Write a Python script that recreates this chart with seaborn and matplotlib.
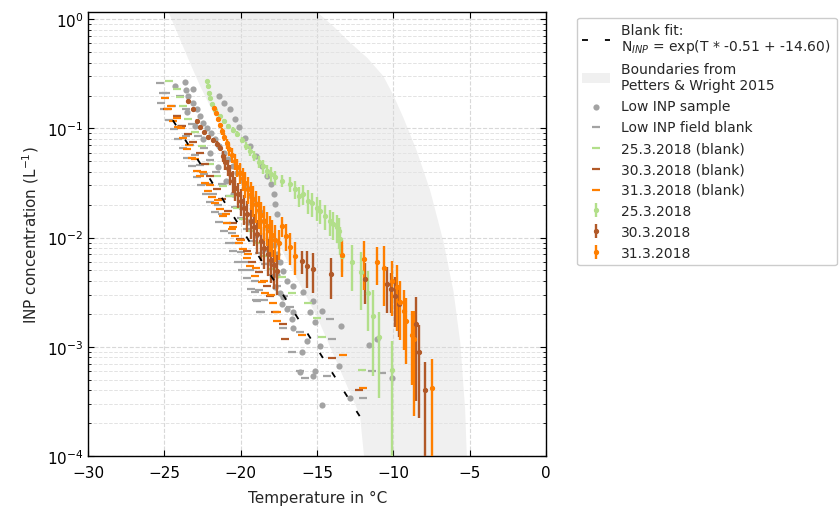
import numpy as np
import matplotlib
matplotlib.use("Agg")
import matplotlib.pyplot as plt
import seaborn as sns

# -----------------------------
# Colours
# -----------------------------
c_gray = "#a3a3a3"
c_green = "#b2df8a"
c_brown = "#b15928"
c_orange = "#ff7f00"
c_shade = "#f0f0f0"

# -----------------------------
# Blank fit: N = exp(T * slope + intercept)
# -----------------------------
fit_slope = -0.51
fit_intercept = -14.60
fit_T = [-24.45, -12.0]

# -----------------------------
# Petters & Wright 2015 boundaries
# -----------------------------
pw_lower_T = [-25.2, -24.74, -23.43, -22.67, -21.0, -19.0, -17.0, -15.02, -13.71, -12.19, -11.93, -11.85]
pw_lower_c = [1.6, 1.17, 0.43, 0.245, 0.083, 0.023, 0.0063, 0.0019, 7.2e-4, 2.33e-4, 1e-4, 5e-5]
pw_upper_T = [-15.6, -15.02, -13.9, -12.84, -11.7, -10.66, -10.0, -9.35, -8.47, -7.6, -6.73, -6.07, -5.63, -5.31, -5.2, -5.15]
pw_upper_c = [1.6, 1.17, 0.85, 0.61, 0.44, 0.30, 0.20, 0.125, 0.062, 0.027, 0.0092, 0.0032, 0.0011, 2.7e-4, 1e-4, 5e-5]

# -----------------------------
# Low INP sample (gray dots)
# -----------------------------
sample_T = [-24.30, -23.65, -23.58, -23.10,
            -21.40, -21.09, -20.70, -20.37, -20.09, -19.72, -19.39, -19.00, -18.63, -18.30, -18.04, -17.82, -17.73, -17.64,
            -23.43, -23.15, -22.88, -22.65, -22.45, -22.2, -21.97, -21.7, -21.40, -21.1, -20.81, -20.5, -20.22, -19.9,
            -19.61, -19.3, -19.00, -18.75, -18.47, -18.25, -18.04, -17.85, -17.64, -17.45, -17.25, -16.99,
            -23.5, -23.0, -22.5, -22.0, -21.5, -21.0, -20.5, -20.0, -19.5, -19.0, -18.5, -18.0, -17.6,
            -17.75, -17.42, -17.21, -17.32, -16.99, -16.55, -16.55, -15.90, -15.24, -15.50, -14.70, -15.13, -16.66,
            -16.55, -15.68, -14.81, -16.01, -13.45, -11.09, -11.59, -13.60, -15.13, -16.11, -15.29, -12.84, -14.70, -10.11]
sample_c = [0.242, 0.267, 0.225, 0.229,
            0.196, 0.172, 0.152, 0.121, 0.102, 0.0824, 0.0692, 0.056, 0.0454, 0.0367, 0.0308, 0.025, 0.0202, 0.0164,
            0.196, 0.170, 0.150, 0.130, 0.113, 0.100, 0.0904, 0.080, 0.0692, 0.060, 0.0522, 0.045, 0.0394, 0.034,
            0.0287, 0.024, 0.0202, 0.017, 0.0142, 0.012, 0.0100, 0.0085, 0.00705, 0.006, 0.00496, 0.00402,
            0.14, 0.105, 0.08, 0.06, 0.044, 0.033, 0.025, 0.019, 0.014, 0.0105, 0.0078, 0.0058, 0.0045,
            3.49e-3, 3.14e-3, 2.83e-3, 2.46e-3, 2.21e-3, 2.06e-3, 3.61e-3, 3.19e-3, 2.63e-3, 2.06e-3, 2.13e-3, 1.67e-3, 1.79e-3,
            1.50e-3, 1.13e-3, 1.02e-3, 8.87e-4, 1.55e-3, 1.17e-3, 1.04e-3, 6.68e-4, 6.02e-4, 5.93e-4, 5.42e-4, 3.36e-4, 2.92e-4, 5.23e-4]

# -----------------------------
# Low INP field blank (gray dashes)
# -----------------------------
field_blank_T = [-25.3, -25.1, -25.2, -25.0, -24.7, -24.4, -24.1, -23.8, -23.5, -23.2, -22.9, -22.6, -22.3, -22.0,
                 -21.7, -21.4, -21.1, -20.8, -20.5, -20.2, -19.9, -19.6, -19.3, -19.0, -18.7,
                 -24.9, -24.5, -24.2, -23.9, -23.6, -23.3, -23.0, -22.7, -22.4, -22.1, -21.8, -21.5, -21.2, -20.9,
                 -20.6, -20.3, -20.0, -19.7, -19.4, -19.1, -18.8, -18.5,
                 -24.0, -23.6, -23.2, -22.8, -22.4, -22.0, -21.6, -21.2, -20.8, -20.4, -20.0, -19.6, -19.2, -18.8,
                 -18.4, -18.0, -17.6, -17.2, -16.8,
                 -19.06, -18.95, -18.73, -17.21, -16.66, -16.11, -16.11, -15.79, -14.15, -14.04, -14.37, -11.97, -11.42, -10.72]
field_blank_c = [0.26, 0.21, 0.17, 0.15, 0.12, 0.098, 0.08, 0.066, 0.053, 0.045, 0.036, 0.030, 0.025, 0.021,
                 0.017, 0.014, 0.0115, 0.009, 0.0075, 0.006, 0.005, 0.0043, 0.0034, 0.0027, 0.0021,
                 0.21, 0.16, 0.13, 0.105, 0.085, 0.07, 0.057, 0.046, 0.038, 0.031, 0.025, 0.020, 0.0165, 0.0135,
                 0.011, 0.009, 0.0074, 0.006, 0.005, 0.004, 0.0033, 0.0027,
                 0.2, 0.15, 0.11, 0.085, 0.066, 0.051, 0.04, 0.031, 0.024, 0.019, 0.015, 0.012, 0.0093, 0.0073,
                 0.0057, 0.0045, 0.0036, 0.0029, 0.0023,
                 3.19e-3, 2.63e-3, 2.09e-3, 1.50e-3, 8.99e-4, 1.37e-3, 6.02e-4, 5.15e-4, 1.79e-3, 1.19e-3, 5.42e-4, 3.36e-4, 6.02e-4, 5.73e-4]

# -----------------------------
# Field blanks of the three days (dashes)
# -----------------------------
blank_25_T = [-24.70, -24.19, -23.97, -23.76, -23.43, -22.99, -22.56, -22.01, -21.57, -21.14, -20.70, -20.26,
              -19.83, -19.39, -18.95, -18.41, -17.86, -17.32, -16.66, -15.63, -15.02, -14.70, -12.03]
blank_25_c = [0.272, 0.229, 0.192, 0.161, 0.121, 0.0917, 0.0692, 0.0470, 0.0367, 0.0298, 0.0241, 0.0188,
              0.0147, 0.0115, 0.00901, 0.00681, 0.00514, 0.00431, 0.00314, 0.00251, 0.00185, 0.00122, 6.15e-4]

blank_30_T = [-24.85, -24.19, -23.87, -23.43, -23.10, -22.66, -22.34, -22.01, -21.57, -21.25, -20.81, -20.48,
              -20.05, -19.61, -19.28, -18.84, -18.30, -18.08, -17.75, -17.21, -17.10, -14.04, -12.23]
blank_30_c = [0.152, 0.130, 0.105, 0.0885, 0.0743, 0.0601, 0.0470, 0.0367, 0.0277, 0.0225, 0.0176, 0.0137,
              0.00967, 0.00756, 0.00592, 0.00479, 0.00361, 0.00293, 0.00206, 0.00163, 0.00119, 7.97e-4, 4.01e-4]

blank_31_T = [-24.96, -24.74, -24.41, -24.08, -23.76, -23.54, -23.21, -22.88, -22.66, -22.34, -22.12, -21.90,
              -21.68, -21.36, -21.14, -20.92, -20.59, -20.37, -20.15, -19.83, -19.61, -19.39, -19.06, -18.63,
              -18.41, -17.86, -17.64, -17.64, -16.01, -13.32, -12.01,
              -24.6, -24.2, -23.9, -23.4, -23.0, -22.5, -22.0, -21.5, -21.0, -20.5, -20.0, -19.5, -19.0, -18.5, -18.0]
blank_31_c = [0.188, 0.152, 0.117, 0.102, 0.0824, 0.0645, 0.0541, 0.0408, 0.0367, 0.0319, 0.0268, 0.0233,
              0.0209, 0.0182, 0.0158, 0.0137, 0.0119, 0.0104, 0.00901, 0.00783, 0.00656, 0.00551, 0.00446, 0.00388,
              0.00314, 0.00254, 0.00206, 0.00173, 0.00128, 8.4e-4, 4.18e-4,
              0.16, 0.125, 0.1, 0.07, 0.052, 0.04, 0.03, 0.022, 0.0165, 0.0125, 0.0095, 0.007, 0.0053, 0.0040, 0.003]

# -----------------------------
# Samples with relative uncertainty (error bars)
# -----------------------------
s25_T = [-22.23, -22.16, -22.10, -22.01, -21.88, -21.68, -21.36, -21.09, -20.81, -20.53, -20.22, -19.94,
         -19.65, -19.39, -19.13, -18.84, -18.56, -18.30, -18.04, -17.75, -17.32, -16.77, -16.44, -16.22,
         -15.90, -15.57, -15.35, -15.02, -14.81, -14.48, -14.15, -13.93, -13.71, -13.60, -13.50, -13.36,
         -12.73, -12.14, -11.64, -11.31, -10.94, -10.11]
s25_c = [0.272, 0.242, 0.213, 0.188, 0.166, 0.148, 0.130, 0.117, 0.105, 0.0970, 0.0885, 0.0785,
         0.0692, 0.0622, 0.0560, 0.0494, 0.0448, 0.0408, 0.0381, 0.0355, 0.0331, 0.0308, 0.0277, 0.0241,
         0.0250, 0.0217, 0.0206, 0.0188, 0.0176, 0.0158, 0.0142, 0.0133, 0.0126, 0.0115, 0.00967, 0.00671,
         0.00592, 0.00479, 0.00314, 0.00192, 0.00122, 6.15e-4]
s25_rel = [0.03, 0.03, 0.03, 0.035, 0.035, 0.035, 0.04, 0.04, 0.05, 0.055, 0.06, 0.07,
           0.085, 0.1, 0.11, 0.125, 0.14, 0.14, 0.155, 0.155, 0.13, 0.155, 0.19, 0.21,
           0.2, 0.245, 0.245, 0.245, 0.245, 0.265, 0.265, 0.29, 0.29, 0.31, 0.28, 0.28,
           0.45, 0.55, 0.56, 0.72, 0.72, 0.84]

s30_T = [-23.43, -23.15, -22.88, -22.66, -22.40, -22.12, -21.84, -21.57, -21.36, -21.18, -21.03, -20.87,
         -20.70, -20.53, -20.35, -20.18, -20.00, -19.78, -19.57, -19.35, -19.13, -18.91, -18.69, -18.47,
         -18.25, -18.04, -17.82, -17.60, -16.01, -15.68, -15.29, -14.11, -11.86, -10.44, -10.18, -9.89,
         -9.61, -8.55, -8.35, -7.93]
s30_c = [0.179, 0.150, 0.117, 0.102, 0.0917, 0.0836, 0.078, 0.0727, 0.0668, 0.056, 0.0494, 0.0438,
         0.0381, 0.0331, 0.0287, 0.0250, 0.0217, 0.0188, 0.0164, 0.0142, 0.0124, 0.0107, 0.00933, 0.00811,
         0.00705, 0.00625, 0.00558, 0.00496, 0.00612, 0.00551, 0.00514, 0.00462, 0.00416, 0.00374, 0.00337, 0.00293,
         0.00245, 1.6e-3, 9e-4, 4.01e-4]
s30_rel = [0.03, 0.03, 0.035, 0.035, 0.04, 0.04, 0.045, 0.05, 0.06, 0.12, 0.15, 0.17,
           0.2, 0.22, 0.24, 0.26, 0.28, 0.3, 0.31, 0.32, 0.33, 0.34, 0.35, 0.36,
           0.37, 0.38, 0.39, 0.4, 0.24, 0.37, 0.4, 0.41, 0.41, 0.45, 0.4, 0.48,
           0.5, 0.8, 0.75, 0.79]

s31_T = [-21.75, -21.62, -21.49, -21.36, -21.22, -21.09, -20.92, -20.74, -20.57, -20.40, -20.22, -20.05,
         -19.87, -19.70, -19.52, -19.35, -19.17, -19.00, -18.82, -18.65, -18.47, -18.30, -18.12, -17.95,
         -17.73, -17.47, -17.32, -17.03, -16.77, -16.44,
         -13.39, -11.92, -11.09, -10.59, -10.11, -9.78, -9.56, -9.28, -9.19, -8.80, -8.65, -7.49]
s31_c = [0.155, 0.138, 0.121, 0.107, 0.0942, 0.0830, 0.0731, 0.0645, 0.0569, 0.0501, 0.0441, 0.0394,
         0.0352, 0.0315, 0.0281, 0.0251, 0.0225, 0.0201, 0.0179, 0.0160, 0.0143, 0.0128, 0.0116, 0.0105,
         0.00953, 0.00901, 0.0128, 0.0104, 0.00828, 0.00681,
         0.00690, 0.00634, 0.00592, 0.00532, 0.00402, 0.00349, 0.00258, 0.00213, 0.00173, 0.00128, 0.00117, 4.2e-4]
s31_rel = [0.035, 0.042, 0.042, 0.056, 0.07, 0.084, 0.105, 0.126, 0.154, 0.175, 0.195, 0.22,
           0.245, 0.265, 0.275, 0.29, 0.31, 0.325, 0.337, 0.337, 0.35, 0.35, 0.37, 0.37,
           0.37, 0.31, 0.21, 0.275, 0.325, 0.337,
           0.37, 0.48, 0.385, 0.56, 0.52, 0.6, 0.55, 0.56, 0.6, 0.65, 0.8, 0.83]

# -----------------------------
# Figure
# -----------------------------
sns.set_style("ticks")
plt.rcParams['font.family'] = ['DejaVu Sans']

fig, ax = plt.subplots(figsize=(8.39, 5.10), dpi=100)
fig.subplots_adjust(left=0.105, right=0.651, bottom=0.104, top=0.975)
ax.set_yscale('log')

# shaded band
ax.fill(np.concatenate([pw_lower_T, pw_upper_T[::-1]]),
        np.concatenate([pw_lower_c, pw_upper_c[::-1]]),
        color=c_shade, lw=0, zorder=0.5, label='Boundaries from\nPetters & Wright 2015')

# dots and dashes
sns.scatterplot(x=sample_T, y=sample_c, color=c_gray, s=20, linewidth=0, ax=ax,
                zorder=2, label='Low INP sample', legend=False)
dash_kw = dict(marker='_', s=36, linewidth=1.6, ax=ax, zorder=2.2, legend=False)
sns.scatterplot(x=field_blank_T, y=field_blank_c, color=c_gray, label='Low INP field blank', **dash_kw)
sns.scatterplot(x=blank_25_T, y=blank_25_c, color=c_green, label='25.3.2018 (blank)', **dash_kw)
sns.scatterplot(x=blank_30_T, y=blank_30_c, color=c_brown, label='30.3.2018 (blank)', **dash_kw)
sns.scatterplot(x=blank_31_T, y=blank_31_c, color=c_orange, label='31.3.2018 (blank)', **dash_kw)

# samples with error bars
for T, c, rel, col, lab in [(s25_T, s25_c, s25_rel, c_green, '25.3.2018'),
                            (s30_T, s30_c, s30_rel, c_brown, '30.3.2018'),
                            (s31_T, s31_c, s31_rel, c_orange, '31.3.2018')]:
    c = np.array(c)
    ax.errorbar(T, c, yerr=c * np.array(rel), fmt='o', ms=2.8, color=col, ecolor=col,
                elinewidth=1.7, capsize=0, zorder=3, label=lab)

# blank fit
fit_c = np.exp(np.array(fit_T) * fit_slope + fit_intercept)
sns.lineplot(x=fit_T, y=fit_c, color='black', lw=1.3, linestyle=(0, (3.3, 9.4)), ax=ax, zorder=4,
             label='Blank fit:\nN$_{INP}$ = exp(T * %.2f + %.2f)' % (fit_slope, fit_intercept), legend=False)

# axes
ax.set_xlim(-30, 0)
ax.set_ylim(1e-4, 1.17)
ax.set_xticks([-30, -25, -20, -15, -10, -5, 0])
ax.set_xlabel('Temperature in °C', fontsize=11, labelpad=7)
ax.set_ylabel('INP concentration (L$^{-1}$)', fontsize=11)
ax.tick_params(which='both', direction='in', top=True, right=True, labelsize=11, colors='black')
ax.tick_params(axis='x', pad=6.5)
ax.tick_params(which='major', length=4)
ax.tick_params(which='minor', length=2.5)
ax.grid(True, which='major', ls='--', color='#d8d8d8', lw=0.8)
ax.grid(True, which='minor', axis='y', ls='--', color='#e3e3e3', lw=0.7)
for sp in ax.spines.values():
    sp.set_color('black')
    sp.set_linewidth(1.0)

# legend
order = ['Blank fit', 'Boundaries', 'Low INP sample', 'Low INP field blank',
         '25.3.2018 (blank)', '30.3.2018 (blank)', '31.3.2018 (blank)',
         '25.3.2018', '30.3.2018', '31.3.2018']
handles, labels = ax.get_legend_handles_labels()
lookup = dict(zip(labels, handles))
hs, ls = [], []
for key in order:
    for lab in labels:
        if lab == key or (lab.startswith(key) and key in ('Blank fit', 'Boundaries')):
            hs.append(lookup[lab])
            ls.append(lab)
            break
leg = ax.legend(hs, ls, loc='upper left', bbox_to_anchor=(1.067, 0.987), borderaxespad=0,
                fontsize=10, frameon=True, fancybox=True, edgecolor='#cccccc', framealpha=1)
leg.get_texts()[0].set_linespacing(1.0)

fig.savefig('out.png', dpi=100)
